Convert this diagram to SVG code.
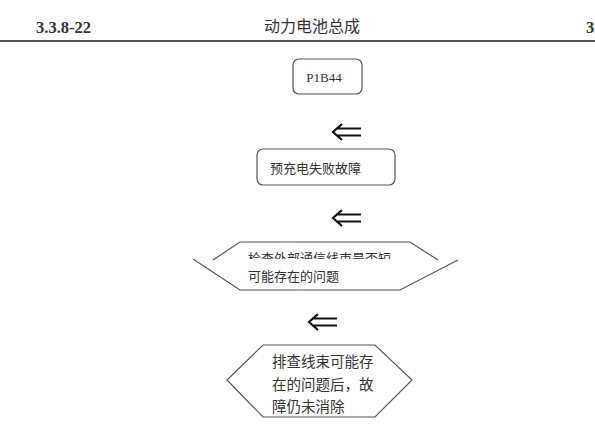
<svg xmlns="http://www.w3.org/2000/svg" width="595" height="441" viewBox="0 0 595 441">
<style>
.box{fill:#fff;stroke:#555;stroke-width:1.2}
.hex{fill:none;stroke:#555;stroke-width:1.2}
.t{font-family:"Liberation Serif","Noto Sans CJK SC",serif;fill:#333}
.c{font-family:"Noto Sans CJK SC",sans-serif;fill:#333}
.arr{fill:none;stroke:#111;stroke-width:2.2;stroke-linecap:butt}
</style>
<defs>
<clipPath id="half"><rect x="230" y="244" width="200" height="15"/></clipPath>
</defs>
<rect width="595" height="441" fill="#fff"/>
<g id="header">
<text class="t" x="36" y="33" font-size="16.5" font-weight="bold" fill="#222">3.3.8-22</text>
<text class="c" x="312" y="32" font-size="16" text-anchor="middle" fill="#222">动力电池总成</text>
<text class="t" x="586" y="33" font-size="16.5" font-weight="bold" fill="#222">3</text>
<line x1="0" y1="41" x2="595" y2="41" stroke="#555" stroke-width="2"/>
</g>
<g id="connectors">
<path class="arr" d="M342,124 L333,132 L342,140 M336,128.5 H361 M336,135.5 H361"/>
<path class="arr" d="M342,210 L333,218 L342,226 M336,214.5 H361 M336,221.5 H361"/>
<path class="arr" d="M318,314 L309,322 L318,330 M312,318.5 H337 M312,325.5 H337"/>
</g>
<g id="n1">
<rect class="box" x="293" y="59" width="69" height="35" rx="6"/>
<text class="t" x="324" y="82" font-size="13" text-anchor="middle">P1B44</text>
</g>
<g id="n2">
<rect class="box" x="257" y="149" width="138" height="36" rx="6"/>
<text class="c" x="270" y="173" font-size="13">预充电失败故障</text>
</g>
<g id="n3">
<path class="hex" d="M213,260 L240,242 H410 L438,260 M193,259 L240,290 H400 L458,260"/>
<text class="c" x="248" y="263" font-size="13" clip-path="url(#half)">检查外部通信线束是否短</text>
<text class="c" x="248" y="281" font-size="13">可能存在的问题</text>
</g>
<g id="n4">
<path class="hex" d="M263,345 H375 L412,380 L375,417 H263 L227,380 Z"/>
<text class="c" x="272" y="367" font-size="14.5">排查线束可能存</text>
<text class="c" x="272" y="390" font-size="14.5">在的问题后，故</text>
<text class="c" x="272" y="412" font-size="14.5">障仍未消除</text>
</g>
</svg>
